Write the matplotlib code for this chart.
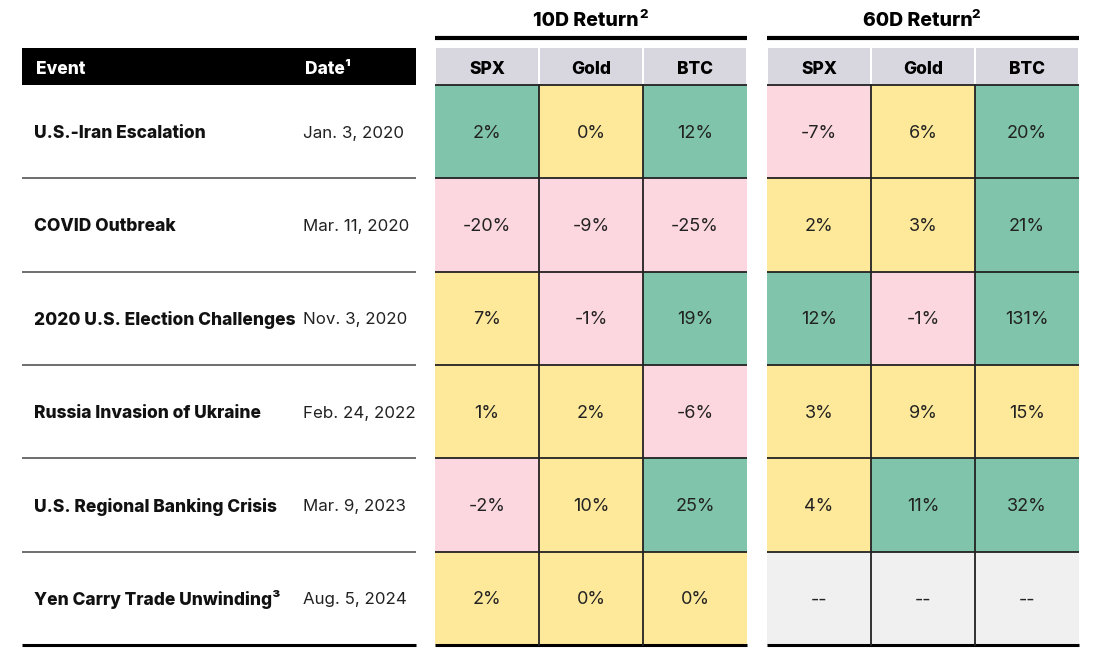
import matplotlib.pyplot as plt
from matplotlib.patches import Rectangle

plt.rcParams['font.family'] = ['Inter', 'DejaVu Sans']

# Datos
events = ["U.S.-Iran Escalation", "COVID Outbreak", "2020 U.S. Election Challenges",
          "Russia Invasion of Ukraine", "U.S. Regional Banking Crisis",
          "Yen Carry Trade Unwinding\u00b3"]
dates = ["Jan. 3, 2020", "Mar. 11, 2020", "Nov. 3, 2020", "Feb. 24, 2022",
         "Mar. 9, 2023", "Aug. 5, 2024"]
assets = ["SPX", "Gold", "BTC"]
groups = ["10D Return", "60D Return"]

ret_10d = [[2, 0, 12], [-20, -9, -25], [7, -1, 19], [1, 2, -6], [-2, 10, 25], [2, 0, 0]]
ret_60d = [[-7, 6, 20], [2, 3, 21], [12, -1, 131], [3, 9, 15], [4, 11, 32],
           [None, None, None]]
# g = verde, y = amarillo, p = rosa, n = sin dato
shade_10d = [["g", "y", "g"], ["p", "p", "p"], ["y", "p", "g"], ["y", "y", "p"],
             ["p", "y", "g"], ["y", "y", "y"]]
shade_60d = [["p", "y", "g"], ["y", "y", "g"], ["g", "p", "g"], ["y", "y", "y"],
             ["y", "g", "g"], ["n", "n", "n"]]

colors = {"g": "#7fc4ab", "y": "#fee99a", "p": "#fdd7df", "n": "#f0f0f0"}
line_c = "#222222"
bold = "heavy"

fig = plt.figure(figsize=(11.01, 6.52), dpi=100)
ax = fig.add_axes([0, 0, 1, 1])
ax.set_xlim(0, 1101)
ax.set_ylim(652, 0)
ax.axis('off')

head_top, head_bot = 48, 85
row_h = (645 - 85) / len(events)
col_w = 104
group_x = [435, 767]
head_y = (head_top + head_bot) / 2 + 3

# Tabla izquierda
ax.add_patch(Rectangle((22, head_top), 394, head_bot - head_top, color="black", lw=0))
ax.text(36, head_y, "Event", color="white", fontsize=12.5, fontweight=bold, va="center")
ax.text(305, head_y, "Date\u00b9", color="white", fontsize=12.5, fontweight=bold,
        va="center")

for i, (ev, dt) in enumerate(zip(events, dates)):
    y0 = head_bot + i * row_h
    yc = y0 + row_h / 2 + 1.5
    ax.text(34, yc, ev, fontsize=12.5, fontweight=bold, va="center", color="#111111")
    ax.text(303, yc, dt, fontsize=12.2, va="center", color="#222222")
    last = i == len(events) - 1
    ax.plot([22, 416], [y0 + row_h] * 2, color="black" if last else "#555555",
            lw=2.2 if last else 1.2, solid_capstyle="butt")

# Bloques de retornos
for g, (gx, vals, shades) in enumerate(zip(group_x, [ret_10d, ret_60d], [shade_10d, shade_60d])):
    width = col_w * len(assets)
    ax.text(gx + width / 2 - 5, 21, groups[g], fontsize=14, fontweight=bold,
            ha="center", va="center")
    ax.text(gx + width / 2 + 48, 15, "2", fontsize=9.5, fontweight=bold,
            ha="left", va="center")
    ax.plot([gx, gx + width], [38, 38], color="black", lw=3, solid_capstyle="butt")
    for j, a in enumerate(assets):
        x0 = gx + j * col_w
        ax.add_patch(Rectangle((x0 + 1, head_top), col_w - 2, head_bot - head_top,
                               color="#d8d6df", lw=0))
        ax.text(x0 + col_w / 2, head_y, a, fontsize=12.5,
                fontweight=bold, ha="center", va="center")
    for i in range(len(events)):
        y0 = head_bot + i * row_h
        for j in range(len(assets)):
            x0 = gx + j * col_w
            ax.add_patch(Rectangle((x0, y0), col_w, row_h, facecolor=colors[shades[i][j]],
                                   edgecolor="none"))
            v = vals[i][j]
            label = "--" if v is None else f"{v}%"
            ax.text(x0 + col_w / 2, y0 + row_h / 2 + 1.5, label, fontsize=13, ha="center",
                    va="center", color="#222222")
    # líneas de la cuadrícula
    for i in range(len(events) + 1):
        y = head_bot + i * row_h
        last = i == len(events)
        ax.plot([gx, gx + width], [y, y], color="black" if last else line_c,
                lw=2.2 if last else 1.3, solid_capstyle="butt")
    for j in range(1, len(assets)):
        x = gx + j * col_w
        ax.plot([x, x], [head_bot, 645], color=line_c, lw=1.3)

fig.savefig("out.png", dpi=100, facecolor="white")
